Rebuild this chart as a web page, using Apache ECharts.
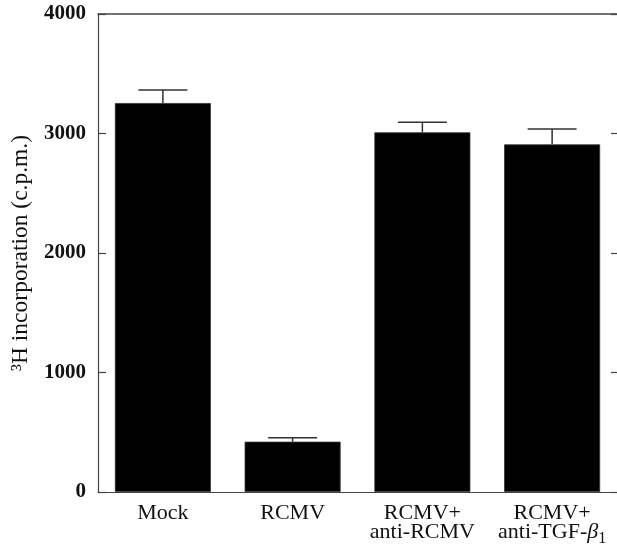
<!DOCTYPE html>
<html>
<head>
<meta charset="utf-8">
<script src="https://cdn.jsdelivr.net/npm/echarts@6/dist/echarts.min.js"></script>
<style>
html,body{margin:0;padding:0;background:#fff;}
#c{width:617px;height:548px;}
</style>
</head>
<body>
<div id="c"></div>
<script>
const categories = ['Mock', 'RCMV', 'RCMV+\nanti-RCMV', 'RCMV+\nanti-TGF-β1'];
const values = [3255, 421, 3010, 2909];
const errors = [109, 33, 84, 129];
const yTicks = [0, 1000, 2000, 3000, 4000];

const FONT = '"Liberation Serif", "Times New Roman", serif';
const AX = '#444';

const chart = echarts.init(document.getElementById('c'), null, {renderer: 'canvas'});

const errData = values.map((v, i) => [i, v, v + errors[i]]);

chart.setOption({
  animation: false,
  backgroundColor: '#fff',
  grid: {left: 98, top: 14, width: 520, height: 478, containLabel: false},
  xAxis: [{
    type: 'category',
    data: categories,
    position: 'bottom',
    boundaryGap: true,
    axisLine: {onZero: false, lineStyle: {color: AX, width: 1.2}},
    axisTick: {inside: true, length: 7, alignWithLabel: false, lineStyle: {color: AX, width: 1.2}},
    axisLabel: {
      interval: 0,
      margin: 12,
      color: '#111',
      fontFamily: FONT,
      fontSize: 22,
      lineHeight: 19,
      formatter: function (v) { return v.replace('β1', '{b|β}{s|1}'); },
      rich: {
        b: {fontFamily: FONT, fontStyle: 'italic', fontSize: 22, color: '#111', lineHeight: 19},
        s: {fontFamily: FONT, fontSize: 16, color: '#111', padding: [12, 0, 0, 0], lineHeight: 19}
      }
    }
  }, {
    type: 'category',
    data: categories,
    position: 'top',
    boundaryGap: true,
    axisLine: {onZero: false, lineStyle: {color: AX, width: 1.5}},
    axisTick: {inside: true, length: 7, alignWithLabel: false, lineStyle: {color: AX, width: 1.2}},
    axisLabel: {show: false}
  }],
  yAxis: [{
    type: 'value',
    min: 0, max: 4000, interval: 1000,
    position: 'left',
    name: '³H incorporation (c.p.m.)',
    nameLocation: 'middle',
    nameGap: 64,
    nameTextStyle: {fontFamily: FONT, fontSize: 23.5, color: '#111'},
    splitLine: {show: false},
    axisLine: {show: true, onZero: false, lineStyle: {color: AX, width: 1.2}},
    axisTick: {show: true, inside: true, length: 8, lineStyle: {color: AX, width: 1.2}},
    axisLabel: {
      margin: 12, color: '#111', fontFamily: FONT, fontSize: 21, fontWeight: 'bold',
      formatter: function (v) { return yTicks.indexOf(v) >= 0 ? String(v) : ''; }
    }
  }, {
    type: 'value',
    min: 0, max: 4000, interval: 1000,
    position: 'right',
    splitLine: {show: false},
    axisLine: {show: false},
    axisTick: {show: true, inside: true, length: 6, lineStyle: {color: AX, width: 1.2}},
    axisLabel: {show: false}
  }],
  series: [{
    type: 'bar',
    data: values,
    barWidth: '74%',
    itemStyle: {color: '#000', borderColor: '#333', borderWidth: 0.8},
    z: 2
  }, {
    type: 'custom',
    data: errData,
    z: 3,
    renderItem: function (params, api) {
      const i = api.value(0);
      const p0 = api.coord([i, api.value(1)]);
      const p1 = api.coord([i, api.value(2)]);
      const half = 24.5;
      const st = {stroke: '#333', lineWidth: 1.5};
      return {
        type: 'group',
        children: [
          {type: 'line', shape: {x1: p0[0], y1: p0[1], x2: p1[0], y2: p1[1]}, style: st},
          {type: 'line', shape: {x1: p1[0] - half, y1: p1[1], x2: p1[0] + half, y2: p1[1]}, style: st}
        ]
      };
    }
  }]
});
</script>
</body>
</html>
